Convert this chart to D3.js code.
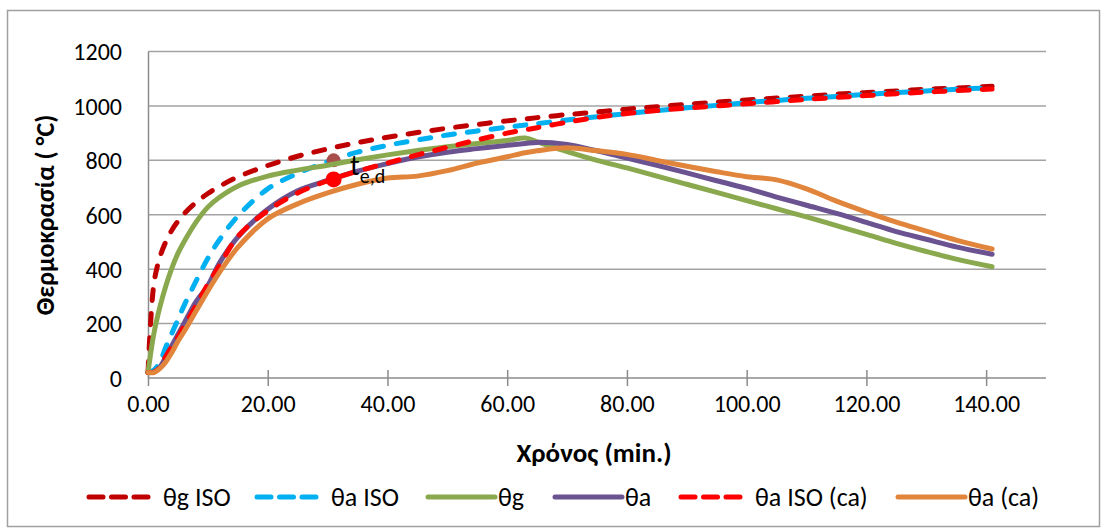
<!DOCTYPE html>
<html>
<head>
<meta charset="utf-8">
<script src="https://d3js.org/d3.v7.min.js"></script>
<style>
body { margin: 0; background: #fff; }
text { font-family: Carlito, "Liberation Sans", Arial, sans-serif; fill: #000; }
</style>
</head>
<body>
<script>
// time (min)
var times = [0, 1, 2, 3, 4, 5, 6, 8, 10, 12, 15, 20, 25, 30, 35, 40, 45, 50, 55, 60, 63, 65, 70, 75, 80, 85, 90, 95, 100, 105, 110, 115, 120, 125, 130, 135, 141];

// temperatures (°C)
var thetaGIso = [20, 349, 445, 502, 544, 576, 603, 645, 678, 705, 739, 781, 815, 842, 865, 885, 902, 918, 932, 945, 952, 957, 968, 978, 988, 997, 1006, 1014, 1022, 1029, 1036, 1043, 1049, 1055, 1061, 1066, 1072];
var thetaAIso = [20, 30, 60, 115, 165, 215, 265, 355, 440, 510, 595, 695, 752, 795, 830, 855, 875, 893, 908, 922, 930, 935, 948, 960, 972, 983, 993, 1002, 1012, 1020, 1028, 1035, 1042, 1049, 1055, 1061, 1067];
var thetaG = [20, 165, 262, 340, 405, 458, 500, 572, 628, 665, 705, 742, 764, 782, 802, 820, 836, 850, 862, 873, 882, 868, 832, 800, 772, 742, 712, 682, 652, 622, 592, 560, 528, 495, 465, 437, 409];
var thetaA = [20, 22, 40, 80, 120, 160, 200, 280, 340, 425, 518, 620, 688, 726, 760, 788, 812, 830, 843, 855, 862, 866, 858, 835, 808, 782, 754, 725, 697, 665, 635, 605, 572, 538, 510, 482, 455];
var thetaAIsoCa = [20, 22, 40, 80, 115, 150, 190, 265, 345, 415, 520, 615, 680, 725, 760, 790, 820, 848, 875, 900, 912, 920, 940, 958, 972, 983, 992, 1000, 1008, 1016, 1024, 1031, 1038, 1045, 1051, 1056, 1062];
var thetaACa = [20, 20, 35, 60, 95, 135, 170, 245, 320, 390, 480, 585, 640, 680, 712, 735, 742, 762, 790, 813, 828, 835, 846, 835, 822, 800, 778, 758, 740, 728, 695, 650, 610, 573, 540, 507, 474];

var seriesNames = ["θg ISO", "θa ISO", "θg", "θa", "θa ISO (ca)", "θa (ca)"];
var seriesColors = ["#C00000", "#00B0F0", "#8AA84E", "#6B5290", "#FF0000", "#E0853B"];
var seriesDashed = [true, true, false, false, true, false];
var seriesValues = [thetaGIso, thetaAIso, thetaG, thetaA, thetaAIsoCa, thetaACa];

// t_e,d points
var tedTime = 31;
var tedTemps = [800, 730];
var tedColors = ["#A84F4C", "#FF0000"];

var yTicks = [0, 200, 400, 600, 800, 1000, 1200];
var xTicks = [0, 20, 40, 60, 80, 100, 120, 140];

var legendX = [86, 254, 425, 552, 678, 895]; // sample start per item

var svg = d3.select("body").append("svg")
	.attr("width", 1107)
	.attr("height", 531);

// outer chart border
svg.append("rect")
	.attr("x", 7.5).attr("y", 10.5)
	.attr("width", 1092).attr("height", 516)
	.attr("fill", "#fff")
	.attr("stroke", "#A0A0A0")
	.attr("stroke-width", 1.5);

var x = d3.scaleLinear().domain([0, 150]).range([148, 1046]);
var y = d3.scaleLinear().domain([0, 1200]).range([378, 51.5]);

// gridlines
svg.append("g").selectAll("line")
	.data(yTicks.slice(1))
	.enter().append("line")
	.attr("x1", x(0)).attr("x2", x(150))
	.attr("y1", function (d) { return y(d); })
	.attr("y2", function (d) { return y(d); })
	.attr("stroke", "#A3A3A3")
	.attr("stroke-width", 1.5);

// y axis
var yAxis = svg.append("g")
	.attr("transform", "translate(" + x(0) + ",0)")
	.call(d3.axisLeft(y).tickValues(yTicks).tickSize(0).tickPadding(26).tickFormat(d3.format("d")));
yAxis.select(".domain").attr("stroke", "#8C8C8C").attr("stroke-width", 1.5);
yAxis.selectAll("text").style("font-size", "24px").attr("dy", "0.35em");

// x axis, ticks cross the line
var xAxis = svg.append("g")
	.attr("transform", "translate(0," + y(0) + ")")
	.call(d3.axisBottom(x).tickValues(xTicks).tickSize(8).tickPadding(9).tickFormat(d3.format(".2f")));
xAxis.select(".domain").attr("stroke", "#8C8C8C").attr("stroke-width", 1.5).attr("d", "M" + x(0) + ",0H" + x(150));
xAxis.selectAll(".tick line").attr("y1", -8).attr("stroke", "#8C8C8C").attr("stroke-width", 1.5);
xAxis.selectAll("text").style("font-size", "24px");

// axis titles
svg.append("text")
	.attr("x", 594).attr("y", 462)
	.attr("text-anchor", "middle")
	.style("font-size", "27px").style("font-weight", "bold")
	.text("Χρόνος (min.)");

svg.append("text")
	.attr("transform", "translate(54,215) rotate(-90)")
	.attr("text-anchor", "middle")
	.style("font-size", "26px").style("font-weight", "bold")
	.text("Θερμοκρασία ( °C)");

var line = d3.line()
	.x(function (d) { return x(d[0]); })
	.y(function (d) { return y(d[1]); })
	.curve(d3.curveCatmullRom.alpha(0.5));

function drawSeries(i) {
	var pts = times.map(function (t, k) { return [t, seriesValues[i][k]]; });
	svg.append("path")
		.attr("d", line(pts))
		.attr("fill", "none")
		.attr("stroke", seriesColors[i])
		.attr("stroke-width", 5)
		.attr("stroke-linecap", "round")
		.attr("stroke-linejoin", "round")
		.attr("stroke-dasharray", seriesDashed[i] ? "11,13" : null);
}

function drawDot(j) {
	svg.append("circle")
		.attr("cx", x(tedTime))
		.attr("cy", y(tedTemps[j]))
		.attr("r", j == 0 ? 7 : 8)
		.style("fill", tedColors[j]);
}

drawSeries(0);
drawSeries(1);
drawDot(0);
drawSeries(2);
drawSeries(3);
drawSeries(4);
drawDot(1);
drawSeries(5);

// t_e,d label
var lbl = svg.append("text").attr("x", 350).attr("y", 175).style("font-size", "29px");
lbl.append("tspan").text("t");
lbl.append("tspan").attr("dy", 8).style("font-size", "20px").text("e,d");

// legend
var legend = svg.append("g").selectAll("g")
	.data(seriesNames)
	.enter().append("g")
	.attr("transform", function (d, i) { return "translate(" + legendX[i] + ",497)"; });

legend.append("line")
	.attr("x1", 3).attr("x2", function (d, i) { return seriesDashed[i] ? 62 : 70; })
	.attr("stroke", function (d, i) { return seriesColors[i]; })
	.attr("stroke-width", 5)
	.attr("stroke-linecap", "round")
	.attr("stroke-dasharray", function (d, i) { return seriesDashed[i] ? "14,8.5" : null; });

legend.append("text")
	.attr("x", function (d, i) { return seriesDashed[i] ? 77 : 73; })
	.attr("y", 9)
	.style("font-size", "26px")
	.text(function (d) { return d; });
</script>
</body>
</html>
